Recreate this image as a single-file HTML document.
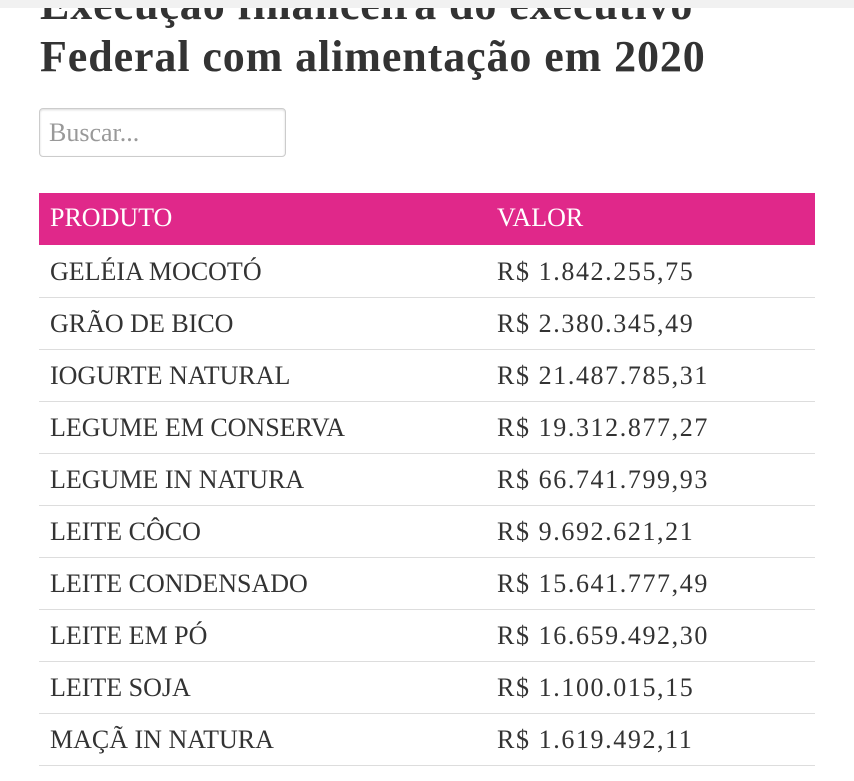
<!DOCTYPE html>
<html><head><meta charset="utf-8"><style>
body{margin:0;width:854px;height:781px;background:#fff;overflow:hidden;position:relative;font-family:"Liberation Serif",serif;color:#333}
.bar{position:absolute;left:0;top:0;width:854px;height:8px;background:#f1f1f1;z-index:2}
.t{position:absolute;left:40px;font-size:44px;line-height:1;font-weight:bold;color:#333;white-space:nowrap;letter-spacing:0.9px}
.s{position:absolute;left:39px;top:108px;width:245px;height:47px;border:1px solid #ccc;border-radius:4px;box-shadow:inset 0 1px 2px rgba(0,0,0,.15)}
.s span{position:absolute;left:9px;top:9px;font-size:26px;color:#999}
table{position:absolute;left:39px;top:193px;width:776px;border-collapse:collapse;font-size:26px}
th{background:#e0288a;color:#fff;text-align:left;font-weight:normal;height:50px;padding:0 0 2px 11px;font-size:26px}
td{height:52px;padding:2px 0 0 11px;border-bottom:1px solid #ddd;color:#333;box-sizing:border-box}
td:nth-child(2){letter-spacing:1.6px}
</style></head><body>
<div class="bar"></div>
<div class="t" style="top:-17px">Execução financeira do executivo</div>
<div class="t" style="top:35px">Federal com alimentação em 2020</div>
<div class="s"><span>Buscar...</span></div>
<table>
<colgroup><col style="width:447px"><col></colgroup>
<tr><th>PRODUTO</th><th>VALOR</th></tr>
<tr><td>GELÉIA MOCOTÓ</td><td>R$ 1.842.255,75</td></tr>
<tr><td>GRÃO DE BICO</td><td>R$ 2.380.345,49</td></tr>
<tr><td>IOGURTE NATURAL</td><td>R$ 21.487.785,31</td></tr>
<tr><td>LEGUME EM CONSERVA</td><td>R$ 19.312.877,27</td></tr>
<tr><td>LEGUME IN NATURA</td><td>R$ 66.741.799,93</td></tr>
<tr><td>LEITE CÔCO</td><td>R$ 9.692.621,21</td></tr>
<tr><td>LEITE CONDENSADO</td><td>R$ 15.641.777,49</td></tr>
<tr><td>LEITE EM PÓ</td><td>R$ 16.659.492,30</td></tr>
<tr><td>LEITE SOJA</td><td>R$ 1.100.015,15</td></tr>
<tr><td>MAÇÃ IN NATURA</td><td>R$ 1.619.492,11</td></tr>
</table>
</body></html>
